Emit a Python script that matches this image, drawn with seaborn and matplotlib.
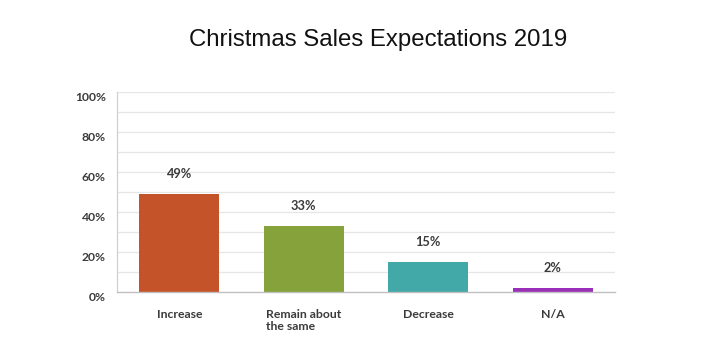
import matplotlib
matplotlib.use("Agg")
import matplotlib.pyplot as plt
import seaborn as sns
import pandas as pd

categories = ["Increase", "Remain about\nthe same", "Decrease", "N/A"]
values = [49, 33, 15, 2]
colors = ["#C5532A", "#86A23A", "#43A9A8", "#9A2FB8"]
yticks = [0, 20, 40, 60, 80, 100]
ytick_labels = ["0%", "20%", "40%", "60%", "80%", "100%"]
title = "Christmas Sales Expectations 2019"

sns.set_theme(style="white")
plt.rcParams['font.family'] = ['Lato', 'DejaVu Sans']

df = pd.DataFrame({"cat": categories, "val": values})

fig = plt.figure(figsize=(7.15, 3.45), dpi=100)
ax = fig.add_axes([117/715, 1-292/345, 498/715, 200/345])

sns.barplot(data=df, x="cat", y="val", hue="cat", palette=colors, width=0.64,
            legend=False, ax=ax, saturation=1, linewidth=0)

ax.set_ylim(0, 100)
ax.set_xlim(-0.5, 3.5)
for g in range(10, 101, 10):
    ax.axhline(g, color="#e6e6e6", lw=0.9, zorder=0)
ax.set_axisbelow(True)
ax.set_yticks(yticks)
ax.set_yticklabels(ytick_labels, fontsize=8.7, fontweight="bold", color="#3b3b3b",
                   va="top")
ax.tick_params(axis="y", length=0, pad=8)
ax.tick_params(axis="x", length=0, pad=12)
ax.set_xticks(range(len(categories)))
ax.set_xticklabels(categories, fontsize=8.8, fontweight="bold", color="#3b3b3b",
                   va="top", multialignment="left")
ax.set_xlabel("")
ax.set_ylabel("")
for s in ["top", "right"]:
    ax.spines[s].set_visible(False)
ax.spines["left"].set_color("#d0d0d0")
ax.spines["left"].set_linewidth(0.9)
ax.spines["bottom"].set_color("#c0c0c0")
ax.spines["bottom"].set_linewidth(1.0)

for i, v in enumerate(values):
    ax.annotate(f"{v}%", xy=(i, v), xytext=(0, 10), textcoords="offset points",
                ha="center", va="bottom", fontsize=9.2, fontweight="bold", color="#3b3b3b")

fig.text(378/715, 1-40/345, title, ha="center", va="center", fontsize=17.3,
         family=["Liberation Sans", "DejaVu Sans"], color="#111111")

fig.savefig("out.png", dpi=100, facecolor="white")
